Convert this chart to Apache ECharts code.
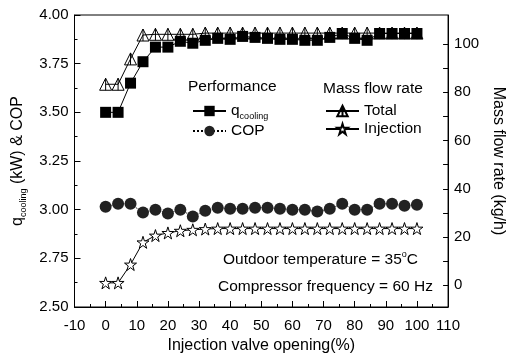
<!DOCTYPE html>
<html>
<head>
<meta charset="utf-8">
<script src="https://cdn.jsdelivr.net/npm/echarts@6/dist/echarts.min.js"></script>
<style>html,body{margin:0;padding:0;background:#fff;}#c{width:514px;height:360px;}</style>
</head>
<body>
<div id="c"></div>
<script>
// ---- data ----
const opening = [0,4,8,12,16,20,24,28,32,36,40,44,48,52,56,60,64,68,72,76,80,84,88,92,96,100];
const qCooling = [3.50,3.50,3.65,3.76,3.835,3.835,3.865,3.855,3.87,3.88,3.875,3.89,3.885,3.88,3.875,3.875,3.87,3.87,3.885,3.905,3.88,3.87,3.905,3.905,3.905,3.905];
const cop = [3.015,3.03,3.03,2.985,3.0,2.98,3.0,2.965,2.995,3.01,3.005,3.005,3.01,3.01,3.005,3.0,3.0,2.99,3.005,3.03,3.0,3.0,3.03,3.03,3.02,3.025];
const totalFlow = [83.3,83.3,93.8,103.7,104,104,104,104,104.5,104.5,104.5,104.5,104.5,104.5,104.5,104.5,104.5,104.5,104.5,104.5,104.5,104.5,104.5,104.5,104.5,104.5];
const injectionFlow = [1.0,1.0,8.6,17.8,20.6,21.7,22.6,23.0,23.3,23.5,23.5,23.5,23.5,23.5,23.5,23.5,23.5,23.5,23.5,23.5,23.5,23.5,23.5,23.5,23.5,23.5];
const rightLabels = [0,20,40,60,80,100];
const rightTicks = [0,10,20,30,40,50,60,70,80,90,100];

const pairs = ys => opening.map((x,i)=>[x, ys[i]]);
const FONT = 'Liberation Sans, Arial, sans-serif';
const triPath = 'path://M6,0L12,11L0,11Z M6,0L6,11';
const starPath = 'path://M10,0L12.245,6.91L19.511,6.91L13.633,11.18L15.878,18.09L10,13.82L4.122,18.09L6.367,11.18L0.489,6.91L7.755,6.91Z';

const chart = echarts.init(document.getElementById('c'), null, {renderer:'canvas'});
const legendRich = {
  m: {fontSize: 15.5, fontFamily: FONT, color: '#000', lineHeight: 20},
  s: {fontSize: 9, fontFamily: FONT, color: '#000', lineHeight: 20, verticalAlign: 'bottom'}
};
const legendFmt = n => n === 'q_cooling' ? '{m|q}{s|cooling}' : '{m|' + n + '}';
chart.setOption({
  animation: false,
  backgroundColor: '#fff',
  grid: {left: 74.5, right: 46.5, top: 15, bottom: 53, show: true, borderColor: '#000', borderWidth: 1, backgroundColor: 'transparent'},
  legend: [
    {data: ['q_cooling','COP'], orient: 'vertical', left: 192, top: 103, padding: 0, itemGap: 2, itemWidth: 33, itemHeight: 13,
     formatter: legendFmt, textStyle: {rich: legendRich}, selectedMode: false},
    {data: ['Total','Injection'], orient: 'vertical', left: 325, top: 103, padding: 0, itemGap: 2, itemWidth: 33, itemHeight: 13,
     formatter: legendFmt, textStyle: {rich: legendRich}, selectedMode: false}
  ],
  xAxis: {
    type: 'value', min: -10, max: 110, interval: 10,
    name: 'Injection valve opening(%)', nameLocation: 'middle', nameGap: 30,
    nameTextStyle: {fontSize: 16, fontFamily: FONT, color: '#000'},
    axisLine: {onZero: false, lineStyle: {color: '#000', width: 1}},
    axisTick: {inside: true, length: 6, lineStyle: {color: '#000'}},
    minorTick: {show: true, splitNumber: 2, length: 3, lineStyle: {color: '#000'}},
    splitLine: {show: false},
    axisLabel: {fontSize: 15, fontFamily: FONT, color: '#000', margin: 11}
  },
  yAxis: [
    {
      type: 'value', min: 2.5, max: 4.0, interval: 0.25, position: 'left',
      name: '{m|q}{s|cooling}{m| (kW) & COP}', nameLocation: 'middle', nameGap: 45,
      nameTextStyle: {rich: {
        m: {fontSize: 16, fontFamily: FONT, color: '#000', lineHeight: 22},
        s: {fontSize: 9, fontFamily: FONT, color: '#000', lineHeight: 22, verticalAlign: 'bottom'}
      }},
      axisLine: {show: true, onZero: false, lineStyle: {color: '#000', width: 1}},
      axisTick: {inside: true, length: 6, lineStyle: {color: '#000'}},
      minorTick: {show: true, splitNumber: 2, length: 3, lineStyle: {color: '#000'}},
      splitLine: {show: false},
      axisLabel: {fontSize: 15, fontFamily: FONT, color: '#000', margin: 6, formatter: v => v.toFixed(2)}
    },
    {
      type: 'value', min: -9, max: 112, position: 'right',
      name: 'Mass flow rate (kg/h)', nameLocation: 'middle', nameGap: 30, nameRotate: -90,
      nameTextStyle: {fontSize: 16, fontFamily: FONT, color: '#000'},
      axisLine: {show: true, onZero: false, lineStyle: {color: '#000', width: 1}},
      axisTick: {inside: true, length: 5, customValues: rightTicks, lineStyle: {color: '#000'}},
      splitLine: {show: false},
      axisLabel: {fontSize: 15, fontFamily: FONT, color: '#000', margin: 6, customValues: rightLabels}
    }
  ],
  graphic: [
    {type: 'text', left: 188, top: 79, style: {text: 'Performance', font: '15.5px ' + FONT, fill: '#000'}},
    {type: 'text', left: 323, top: 81, style: {text: 'Mass flow rate', font: '15.5px ' + FONT, fill: '#000'}},
    {type: 'text', left: 223, top: 250, style: {text: '{m|Outdoor temperature = 35}{p|o}{m|C}', rich: {
      m: {fontSize: 15.5, fontFamily: FONT, fill: '#000', lineHeight: 20},
      p: {fontSize: 9, fontFamily: FONT, fill: '#000', lineHeight: 20, verticalAlign: 'top'}
    }}},
    {type: 'text', left: 218, top: 279, style: {text: 'Compressor frequency = 60 Hz', font: '15.5px ' + FONT, fill: '#000'}}
  ],
  series: [
    {name: 'Total', type: 'line', yAxisIndex: 1, data: pairs(totalFlow), symbol: triPath, symbolSize: [12, 12],
     itemStyle: {color: 'rgba(255,255,255,0)', borderColor: '#000', borderWidth: 1},
     lineStyle: {color: '#000', width: 1}, emphasis: {disabled: true}},
    {name: 'q_cooling', type: 'line', yAxisIndex: 0, data: pairs(qCooling), symbol: 'rect', symbolSize: 11,
     itemStyle: {color: '#000'}, lineStyle: {color: '#000', width: 1}, emphasis: {disabled: true}},
    {name: 'COP', type: 'line', yAxisIndex: 0, data: pairs(cop), symbol: 'circle', symbolSize: 12,
     itemStyle: {color: '#222'}, lineStyle: {color: '#000', width: 1, type: 'dotted'}, emphasis: {disabled: true}},
    {name: 'Injection', type: 'line', yAxisIndex: 1, data: pairs(injectionFlow), symbol: starPath, symbolSize: 12,
     itemStyle: {color: '#fff', borderColor: '#000', borderWidth: 1}, lineStyle: {color: '#000', width: 1}, emphasis: {disabled: true}}
  ]
});
</script>
</body>
</html>
